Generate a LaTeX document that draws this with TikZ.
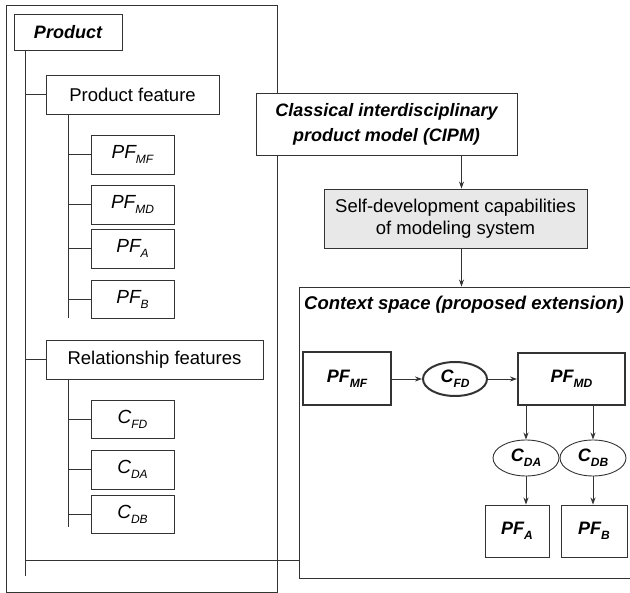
\documentclass[tikz,border=0pt]{standalone}
\usepackage{fontspec}
\setmainfont{Liberation Sans}
\usetikzlibrary{arrows.meta,shapes.geometric}
\newcommand\sbx[1]{\raisebox{-5pt}{\fontsize{12}{12}\selectfont #1}}
\begin{document}
\begin{tikzpicture}[x=1pt,y=-1pt,
  ln/.style={draw=black!80, line width=0.9pt},
  tbox/.style={draw=black!80, line width=0.9pt, fill=white, inner sep=0pt,
    font=\fontsize{18.5}{22}\selectfont},
  kbox/.style={tbox, line width=2pt},
  ell/.style={ellipse, draw=black!80, line width=0.9pt, fill=white, inner sep=0pt},
  kell/.style={ell, line width=2pt},
  arr/.style={draw=black!80, line width=0.9pt, -{Stealth[length=7pt,width=5pt]}},
  bi/.style={font=\fontsize{18}{25}\selectfont\bfseries\itshape},
  bis/.style={font=\fontsize{18}{22}\selectfont\bfseries\itshape},
  it/.style={font=\fontsize{19}{22}\selectfont\itshape}
]
\useasboundingbox (0,0) rectangle (630,593);
% outer frame
\draw[ln] (6,5) rectangle (277,592);
% left hierarchy
\node[tbox, bi, minimum width=108, minimum height=36] (prod) at (68,32) {Product};
\node[tbox, minimum width=173, minimum height=39] (pfeat) at (132.5,94.5) {Product feature};
\node[tbox, it, minimum width=83, minimum height=39] (lmf) at (132.5,154.5) {PF\sbx{MF}};
\node[tbox, it, minimum width=83, minimum height=39] (lmd) at (132.5,204.5) {PF\sbx{MD}};
\node[tbox, it, minimum width=83, minimum height=39] (la) at (132.5,248.5) {PF\sbx{A}};
\node[tbox, it, minimum width=83, minimum height=38] (lb) at (132.5,299) {PF\sbx{B}};
\node[tbox, minimum width=217, minimum height=39] (relf) at (154.5,359.5) {Relationship features};
\node[tbox, it, minimum width=83, minimum height=38] (lfd) at (132.5,419) {C\sbx{FD}};
\node[tbox, it, minimum width=83, minimum height=39] (lda) at (132.5,469.5) {C\sbx{DA}};
\node[tbox, it, minimum width=83, minimum height=38] (ldb) at (132.5,514) {C\sbx{DB}};
\coordinate (trunkend) at (25,576);
\coordinate (pfend) at (68,318);
\coordinate (rfend) at (68,527);
\draw[ln] (prod.south -| trunkend) -- (trunkend);
\draw[ln] (pfeat.south -| pfend) -- (pfend);
\draw[ln] (relf.south -| rfend) -- (rfend);
\draw[ln] (pfeat.west -| trunkend) -- (pfeat.west);
\draw[ln] (relf.west -| trunkend) -- (relf.west);
\foreach \n in {lmf,lmd,la,lb}{\draw[ln] (\n.west -| pfend) -- (\n.west);}
\foreach \n in {lfd,lda,ldb}{\draw[ln] (\n.west -| rfend) -- (\n.west);}
% right side
\node[tbox, bi, align=center, minimum width=261, minimum height=62] (cipm) at (386.5,124)
  {Classical interdisciplinary\\product model (CIPM)};
\node[tbox, fill=black!9, align=center, minimum width=263, minimum height=59] (self) at (455.5,218.5)
  {Self-development capabilities\\of modeling system};
\node[draw=black!80, line width=0.9pt, inner sep=0pt, minimum width=333, minimum height=291] (ctx) at (465.5,432.5) {};
\node[font=\fontsize{18.5}{22}\selectfont\bfseries\itshape] (ctxt) at (464,305) {Context space (proposed extension)};
\draw[arr] (cipm.south -| 461.5,0) -- (self.north -| 461.5,0);
\draw[arr] (self.south -| 461.5,0) -- (ctx.north -| 461.5,0);
\draw[ln] (trunkend |- 0,560) -- (ctx.west |- 0,560);
% context content
\node[kbox, bis, minimum width=88, minimum height=53] (rmf) at (347,379) {PF\sbx{MF}};
\node[kell, bis, minimum width=64, minimum height=34] (rfd) at (455,379) {C\sbx{FD}};
\node[kbox, bis, minimum width=107, minimum height=52] (rmd) at (571.5,379) {PF\sbx{MD}};
\node[ell, bis, minimum width=66, minimum height=36] (rda) at (526,458) {C\sbx{DA}};
\node[ell, bis, minimum width=66, minimum height=36] (rdb) at (593,458) {C\sbx{DB}};
\node[tbox, bis, minimum width=64, minimum height=52] (ra) at (517,531) {PF\sbx{A}};
\node[tbox, bis, minimum width=66, minimum height=52] (rb) at (594,531) {PF\sbx{B}};
\draw[arr] (rmf.east) -- (rfd.west);
\draw[arr] (rfd.east) -- (rmd.west);
\draw[arr] (rmd.south -| rda.north) -- (rda.north);
\draw[arr] (rmd.south -| rdb.north) -- (rdb.north);
\draw[arr] (rda.south) -- (rda.south |- ra.north);
\draw[arr] (rdb.south) -- (rdb.south |- rb.north);
\end{tikzpicture}
\end{document}
